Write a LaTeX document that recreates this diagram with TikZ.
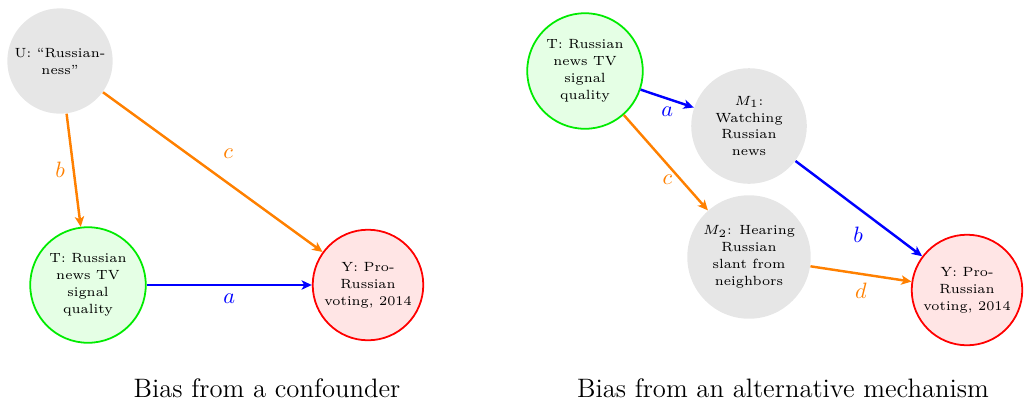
\documentclass[tikz,border=0pt]{standalone}
\usetikzlibrary{arrows.meta}
\definecolor{dagorange}{RGB}{255,128,0}
\definecolor{daggreen}{RGB}{0,235,0}
\definecolor{daggray}{HTML}{E6E6E6}

\begin{document}
\begin{tikzpicture}[
  x=0.45pt,y=-0.45pt,
  var/.style={circle,align=center,inner sep=2pt,minimum size=52pt,font=\fontsize{6}{7.6}\selectfont},
  latent/.style={var,fill=daggray},
  treat/.style={var,draw=daggreen,fill=green!10,thick},
  outc/.style={var,draw=red,fill=red!10,thick,minimum size=47.5pt},
  arr/.style={-{Stealth[length=4.6pt,width=4.2pt,inset=1.2pt]},line width=1.1pt},
  lab/.style={font=\normalsize}
]
  \useasboundingbox (0,0) rectangle (1031,410);
  % confounder
  \node[latent,minimum size=43pt] (u) at (60,61) {U: ``Russian-\\ness''};
  \node[treat] (t1) at (88,285) {T: Russian\\news TV\\signal\\quality};
  \node[outc] (y1) at (368,285) {Y: Pro-\\Russian\\voting, 2014};
  \draw[arr,blue] (t1) -- node[lab,below] {$a$} (y1);
  \draw[arr,dagorange] (u) -- node[lab,left] {$b$} (t1);
  \draw[arr,dagorange] (u) -- node[lab,pos=.57,above=2.5mm] {$c$} (y1);
  % mechanism
  \node[treat] (t2) at (585,71) {T: Russian\\news TV\\signal\\quality};
  \node[latent] (m1) at (749,126) {$M_1$:\\Watching\\Russian\\news};
  \node[latent] (m2) at (749,257) {$M_2$: Hearing\\Russian\\slant from\\neighbors};
  \node[outc] (y2) at (967,290) {Y: Pro-\\Russian\\voting, 2014};
  \draw[arr,blue] (t2) -- node[lab,below] {$a$} (m1);
  \draw[arr,dagorange] (t2) -- node[lab,pos=.68,left] {$c$} (m2);
  \draw[arr,blue] (m1) -- node[lab,pos=.6,below left] {$b$} (y2);
  \draw[arr,dagorange] (m2) -- node[lab,below] {$d$} (y2);
  \node[font=\large] (cap1) at (267,388) {Bias from a confounder};
  \node[font=\large] (cap2) at (783,388) {Bias from an alternative mechanism};
\end{tikzpicture}
\end{document}
